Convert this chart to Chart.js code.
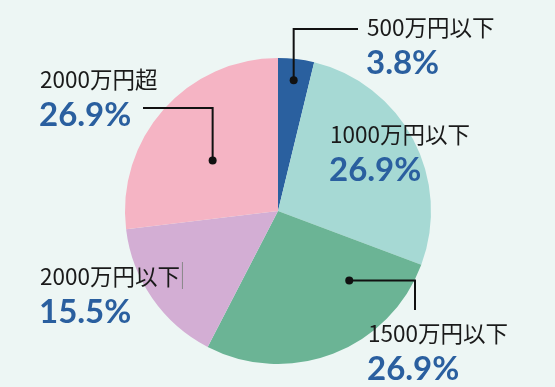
<!DOCTYPE html>
<html>
<head>
<meta charset="utf-8">
<script src="https://cdn.jsdelivr.net/npm/chart.js@4"></script>
<style>
  html, body { margin: 0; padding: 0; background: #edf6f4; }
  #wrap { width: 555px; height: 387px; }
</style>
</head>
<body>
<div id="wrap"><canvas id="canvasPie" width="555" height="387"></canvas></div>
<script>
// 年収区分ごとの割合
var categorias = ['500万円以下', '1000万円以下', '1500万円以下', '2000万円以下', '2000万円超'];
var porcentajes = [3.8, 26.9, 26.9, 15.5, 26.9];
var colores = ['#2a609f', '#a6d9d4', '#6bb495', '#d3aed4', '#f5b4c4'];

// etiquetas: texto, % y linea guia (t = posicion dentro del sector, rf = fraccion del radio)
var etiquetas = [
  { x: 367, y: 27, guia: { t: 0.5, rf: 0.86, ruta: [['y', 29], ['x', 358]] } },
  { x: 330, y: 134, guia: null },
  { x: 368, y: 333, guia: { t: 0.245, rf: 0.65, ruta: [['x', 415], ['y', 310]] } },
  { x: 40, y: 276, guia: null, cursor: true },
  { x: 40, y: 79, guia: { t: 0.46, rf: 0.54, ruta: [['y', 108], ['x', 143]] } }
];

var pluginEtiquetas = {
  id: 'etiquetas',
  afterDraw: function(chart){
    var ctx = chart.ctx;
    var meta = chart.getDatasetMeta(0);
    ctx.save();
    etiquetas.forEach(function(e, i){
      var arc = meta.data[i];
      if(e.guia){
        var ang = arc.startAngle + (arc.endAngle - arc.startAngle) * e.guia.t;
        var r = arc.outerRadius * e.guia.rf;
        var px = arc.x + Math.cos(ang) * r;
        var py = arc.y + Math.sin(ang) * r;
        ctx.strokeStyle = '#111';
        ctx.lineWidth = 2;
        ctx.beginPath();
        ctx.moveTo(px, py);
        var cx = px, cy = py;
        e.guia.ruta.forEach(function(p){
          if(p[0] == 'x'){ cx = p[1]; } else { cy = p[1]; }
          ctx.lineTo(cx, cy);
        });
        ctx.stroke();
        ctx.fillStyle = '#111';
        ctx.beginPath();
        ctx.arc(px, py, 4, 0, Math.PI * 2);
        ctx.fill();
      }
      ctx.textAlign = 'left';
      ctx.textBaseline = 'middle';
      ctx.fillStyle = '#1a1a1a';
      ctx.font = '22.5px "Noto Sans CJK JP", "Noto Sans", sans-serif';
      ctx.fillText(categorias[i], e.x, e.y);
      if(e.cursor){
        var w = ctx.measureText(categorias[i]).width;
        ctx.strokeStyle = '#888';
        ctx.lineWidth = 1;
        ctx.beginPath();
        ctx.moveTo(e.x + w + 2.5, e.y - 14);
        ctx.lineTo(e.x + w + 2.5, e.y + 13);
        ctx.stroke();
      }
      ctx.fillStyle = '#2a5f9f';
      ctx.font = 'bold 33px Lato, "Noto Sans", sans-serif';
      ctx.fillText(porcentajes[i].toFixed(1) + '%', e.x - 1, e.y + 36);
    });
    ctx.restore();
  }
};

window.onload = function(){
  var ctx = document.getElementById('canvasPie').getContext('2d');
  window.myPie = new Chart(ctx, {
    type: 'pie',
    data: {
      labels: categorias,
      datasets: [{
        data: porcentajes,
        backgroundColor: colores,
        borderWidth: 0
      }]
    },
    options: {
      responsive: false,
      animation: false,
      layout: { padding: { top: 58, bottom: 23, left: 125, right: 124 } },
      plugins: {
        legend: { display: false },
        tooltip: { enabled: false },
        title: { display: false }
      }
    },
    plugins: [pluginEtiquetas]
  });
};
</script>
</body>
</html>
